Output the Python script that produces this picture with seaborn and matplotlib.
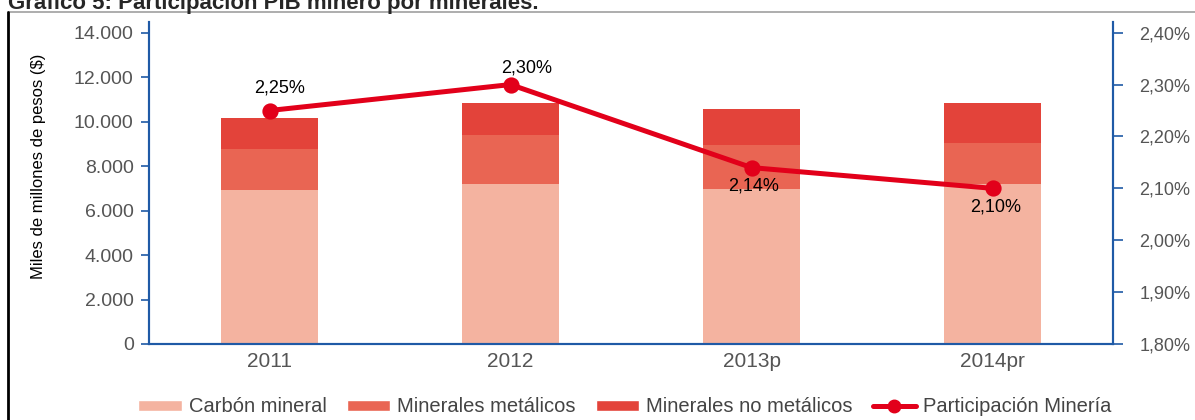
import numpy as np
import pandas as pd
import matplotlib
matplotlib.use("Agg")
import matplotlib.pyplot as plt
import seaborn as sns
from matplotlib.lines import Line2D
from matplotlib.patches import Patch

# data
years = ["2011", "2012", "2013p", "2014pr"]
carbon = [6940, 7210, 6970, 7210]
metalicos = [1830, 2190, 1990, 1830]
no_metalicos = [1405, 1420, 1610, 1800]
participacion = [2.25, 2.30, 2.14, 2.10]
part_labels = ["2,25%", "2,30%", "2,14%", "2,10%"]
label_offsets = [(7, 16), (11.5, 12), (1.5, -13), (2, -13.7)]

left_ticks = [0, 2000, 4000, 6000, 8000, 10000, 12000, 14000]
right_ticks = [1.80, 1.90, 2.00, 2.10, 2.20, 2.30, 2.40]

c_carbon = "#F4B3A0"
c_met = "#E96553"
c_nomet = "#E3433A"
c_line = "#E2001A"
c_axis = "#1F5AA6"
c_tick = "#555555"

sns.set_style("white")
plt.rcParams["font.family"] = ["Liberation Sans", "DejaVu Sans"]

df = pd.DataFrame({"year": years, "carbon": carbon,
                   "metalicos": metalicos, "no_metalicos": no_metalicos})
df["s2"] = df["carbon"] + df["metalicos"]
df["s3"] = df["s2"] + df["no_metalicos"]

fig = plt.figure(figsize=(11.95, 4.2), dpi=100)
ax = fig.add_axes([149 / 1195, 1 - 344 / 420, (1113 - 149) / 1195, (344 - 22) / 420])

# stacked bars drawn as overlapping cumulative totals
bar_kw = dict(width=0.4, saturation=1, linewidth=0, ax=ax)
sns.barplot(data=df, x="year", y="s3", color=c_nomet, **bar_kw)
sns.barplot(data=df, x="year", y="s2", color=c_met, **bar_kw)
sns.barplot(data=df, x="year", y="carbon", color=c_carbon, **bar_kw)

ax.set_xlim(-0.5, 3.5)
ax.set_ylim(0, 14480)
ax.set_yticks(left_ticks)
ax.set_yticklabels([f"{v:,}".replace(",", ".") for v in left_ticks])
ax.set_xlabel("")
ax.set_ylabel("Miles de millones de pesos ($)", fontsize=12, color="black")
ax.yaxis.set_label_coords(-0.107, 0.553)
ax.tick_params(axis="y", direction="out", length=6, width=1.2, color=c_axis,
               labelsize=14, labelcolor=c_tick, pad=5)
ax.tick_params(axis="x", length=0, labelsize=15, labelcolor=c_tick, pad=6)
ax.set_xticks([-0.5, 3.5], minor=True)
ax.tick_params(axis="x", which="minor", direction="out", length=8, width=1.2, color=c_axis)

for side in ["left", "bottom", "right"]:
    ax.spines[side].set_color(c_axis)
    ax.spines[side].set_linewidth(1.5)
ax.spines["top"].set_visible(False)

# participation line on secondary axis
ax2 = ax.twinx()
sns.pointplot(x=years, y=participacion, ax=ax2, color=c_line, markers="o",
              markersize=9, linewidth=3.6)
ax2.set_xlim(-0.5, 3.5)
ax2.set_ylim(1.80, 2.4206)
ax2.set_yticks(right_ticks)
ax2.set_yticklabels([f"{v:.2f}%".replace(".", ",") for v in right_ticks])
ax2.tick_params(axis="y", direction="out", length=7, width=1.2, color=c_axis,
                labelsize=13, labelcolor=c_tick, pad=12)
ax2.set_ylabel("")
for side in ["left", "bottom", "right"]:
    ax2.spines[side].set_color(c_axis)
    ax2.spines[side].set_linewidth(1.5)
ax2.spines["top"].set_visible(False)

for i, (lab, off) in enumerate(zip(part_labels, label_offsets)):
    ax2.annotate(lab, (i, participacion[i]), xytext=off, textcoords="offset points",
                 ha="center", va="center", fontsize=13, color="black")

# legend
handles = [
    Patch(facecolor=c_carbon, label="Carbón mineral"),
    Patch(facecolor=c_met, label="Minerales metálicos"),
    Patch(facecolor=c_nomet, label="Minerales no metálicos"),
    Line2D([], [], color=c_line, lw=3.6, marker="o", markersize=9,
           label="Participación Minería"),
]
fig.legend(handles=handles, loc="center", bbox_to_anchor=(625 / 1195, 1 - 407 / 420),
           ncol=4, frameon=False, fontsize=14.5, handlelength=2.15, handleheight=0.5,
           handletextpad=0.35, columnspacing=1.0, labelcolor="#444444")

# title (cut off at the top in the reference) and frame lines
fig.text(8 / 1195, 1 - 9 / 420, "Gráfico 5: Participación PIB minero por minerales.",
         fontsize=16, fontweight="bold", ha="left", va="baseline")
fig.add_artist(Line2D([8 / 1195, 1], [1 - 12 / 420, 1 - 12 / 420],
                      color="#A0A0A0", lw=1.2, transform=fig.transFigure))
fig.add_artist(Line2D([8 / 1195, 8 / 1195], [0, 1 - 12 / 420],
                      color="black", lw=2, transform=fig.transFigure))

fig.savefig("out.png", dpi=100)
